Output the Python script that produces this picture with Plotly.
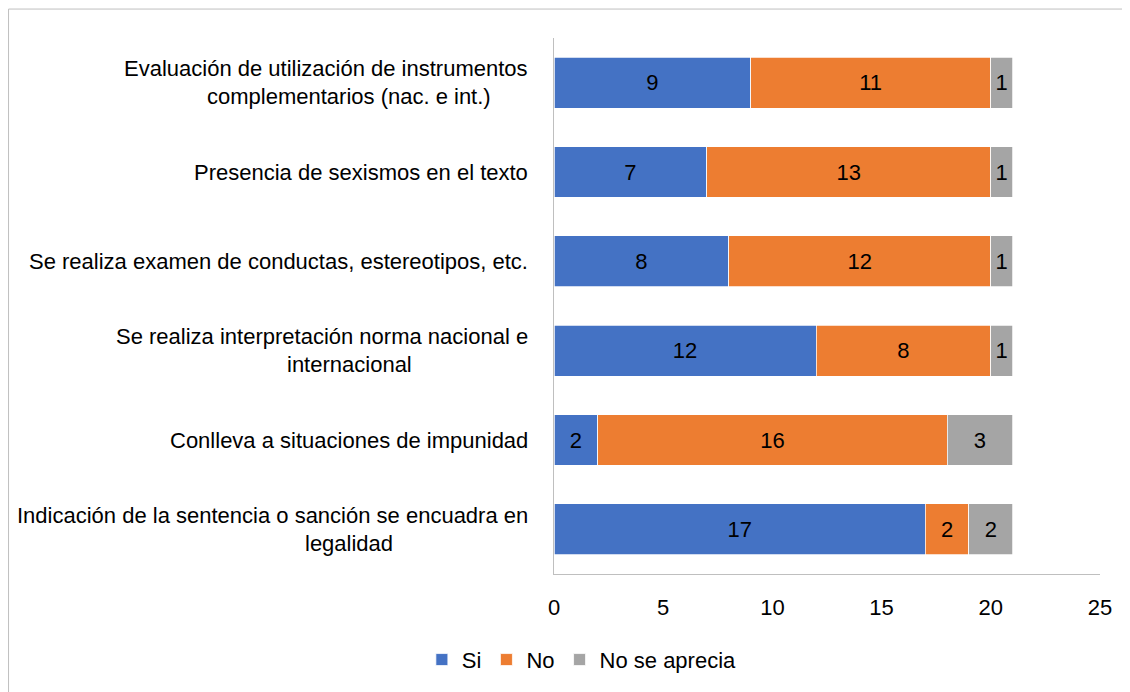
import plotly.graph_objects as go

line1 = [
    "Evaluación de utilización de instrumentos",
    "Presencia de sexismos en el texto",
    "Se realiza examen de conductas, estereotipos, etc.",
    "Se realiza interpretación norma nacional e",
    "Conlleva a situaciones de impunidad",
    "Indicación de la sentencia o sanción se encuadra en",
]
line2 = [
    "complementarios (nac. e int.)",
    "",
    "",
    "internacional",
    "",
    "legalidad",
]
categories = [a + (" " + b if b else "") for a, b in zip(line1, line2)]

si = [9, 7, 8, 12, 2, 17]
no = [11, 13, 12, 8, 16, 2]
no_aprecia = [1, 1, 1, 1, 3, 2]

series = [("Si", si, "#4472C4"), ("No", no, "#ED7D31"), ("No se aprecia", no_aprecia, "#A5A5A5")]

FONT = "Liberation Sans, Arial, sans-serif"
FS = 22

fig = go.Figure()
for name, vals, color in series:
    fig.add_trace(go.Bar(
        y=categories, x=vals, name=name, orientation="h",
        marker=dict(color=color, line=dict(color="#FFFFFF", width=0.75)),
        text=vals, textposition="inside", insidetextanchor="middle",
        textfont=dict(color="#000000", size=FS, family=FONT),
        constraintext="none",
    ))

annotations = []
for cat, a, b in zip(categories, line1, line2):
    if b:
        annotations.append(dict(x=0, xref="paper", y=cat, yref="y", text=a, showarrow=False,
                                xanchor="right", yanchor="middle", xshift=-24, yshift=14,
                                font=dict(size=FS, family=FONT, color="#000000")))
        annotations.append(dict(x=0, xref="paper", y=cat, yref="y", text=b, showarrow=False,
                                xanchor="center", yanchor="middle", xshift=-205, yshift=-14,
                                font=dict(size=FS, family=FONT, color="#000000")))
    else:
        annotations.append(dict(x=0, xref="paper", y=cat, yref="y", text=a, showarrow=False,
                                xanchor="right", yanchor="middle", xshift=-24,
                                font=dict(size=FS, family=FONT, color="#000000")))

fig.update_layout(
    barmode="stack",
    bargap=0.43,
    width=1130, height=692,
    margin=dict(l=546, r=38, t=30, b=126),
    paper_bgcolor="#FFFFFF", plot_bgcolor="#FFFFFF",
    font=dict(family=FONT, size=FS, color="#000000"),
    xaxis=dict(range=[0, 25], dtick=5, tick0=0, showgrid=False, zeroline=False,
               showline=True, linecolor="#BFBFBF", linewidth=1, ticks="",
               ticklabelstandoff=14,
               tickfont=dict(size=FS, family=FONT, color="#000000")),
    yaxis=dict(autorange="reversed", showticklabels=False, showgrid=False,
               showline=True, linecolor="#BFBFBF", linewidth=1, ticks=""),
    legend=dict(orientation="h", x=-0.242, xanchor="left", y=-0.16, yanchor="middle",
                font=dict(size=FS, family=FONT, color="#000000"), traceorder="normal"),
    annotations=annotations,
    shapes=[dict(type="rect", xref="paper", yref="paper", x0=-0.999, x1=1.2, y0=-0.4, y1=1.054,
                 line=dict(color="#BFBFBF", width=1), fillcolor="rgba(0,0,0,0)", layer="below")],
    uniformtext=dict(minsize=10, mode="show"),
)

fig.write_html("out.html")
